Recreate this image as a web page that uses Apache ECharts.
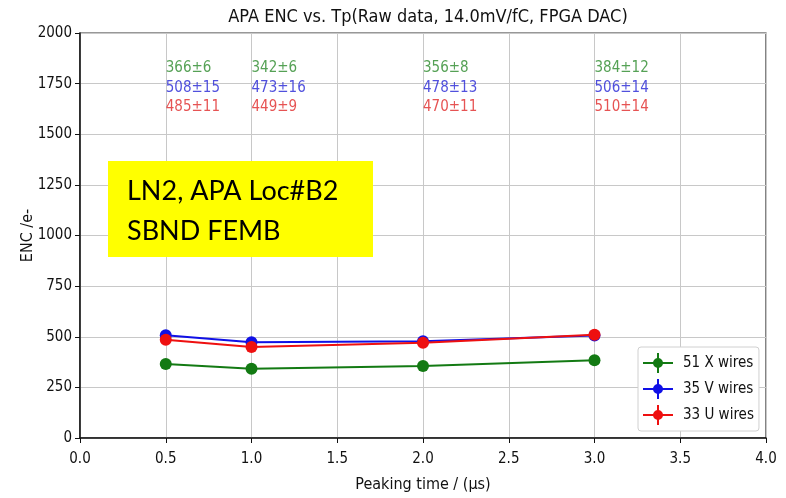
<!DOCTYPE html>
<html>
<head>
<meta charset="utf-8">
<script src="https://cdn.jsdelivr.net/npm/echarts@6/dist/echarts.min.js"></script>
<style>html,body{margin:0;padding:0;background:#fff}#c{width:786px;height:498px}</style>
</head>
<body>
<div id="c"></div>
<script>
const peakingTimes = [0.5, 1.0, 2.0, 3.0];
const seriesNames = ['51 X wires', '35 V wires', '33 U wires'];
const encX = [366, 342, 356, 384];
const errX = [6, 6, 8, 12];
const encV = [508, 473, 478, 506];
const errV = [15, 16, 13, 14];
const encU = [485, 449, 470, 510];
const errU = [11, 9, 11, 14];
const colors = ['#137a13', '#1010e6', '#ee1010'];
const labelColors = ['#2a8a2a', '#2424d4', '#e02828'];
const labelLevels = [1828, 1730, 1632];
const xTicks = [0, 0.5, 1.0, 1.5, 2.0, 2.5, 3.0, 3.5, 4.0];
const yTicks = [0, 250, 500, 750, 1000, 1250, 1500, 1750, 2000];

const FONT = "'DejaVu Sans Condensed', 'DejaVu Sans', sans-serif";
const chart = echarts.init(document.getElementById('c'));

const encs = [encX, encV, encU];
const errs = [errX, errV, errU];

const legendIcon = 'path://M0,9h30v2h-30z M14,0h2v20h-2z M10,10a5,5 0 1,1 10,0a5,5 0 1,1 -10,0z';

const series = [];
encs.forEach((vals, i) => {
  series.push({
    name: seriesNames[i],
    type: 'line',
    data: peakingTimes.map((t, j) => [t, vals[j]]),
    symbol: 'circle',
    symbolSize: 12,
    lineStyle: { color: colors[i], width: 2 },
    itemStyle: { color: colors[i] },
    z: 3 + i
  });
  series.push({
    type: 'custom',
    data: peakingTimes.map((t, j) => [t, vals[j] - errs[i][j], vals[j] + errs[i][j]]),
    renderItem: function (params, api) {
      const lo = api.coord([api.value(0), api.value(1)]);
      const hi = api.coord([api.value(0), api.value(2)]);
      return { type: 'line', shape: { x1: lo[0], y1: lo[1], x2: hi[0], y2: hi[1] }, style: { stroke: colors[i], lineWidth: 2 } };
    },
    z: 3 + i,
    silent: true
  });
  series.push({
    type: 'scatter',
    data: peakingTimes.map((t) => [t, labelLevels[i]]),
    symbolSize: 0,
    silent: true,
    label: {
      show: true,
      position: 'right',
      distance: 0,
      color: labelColors[i],
      fontFamily: FONT,
      fontSize: 15,
      formatter: (p) => vals[p.dataIndex] + '±' + errs[i][p.dataIndex]
    }
  });
});

chart.setOption({
  animation: false,
  backgroundColor: '#fff',
  title: {
    text: 'APA ENC vs. Tp(Raw data, 14.0mV/fC, FPGA DAC)',
    left: 423, top: 3, textAlign: 'center',
    textStyle: { fontFamily: FONT, fontSize: 18, fontWeight: 'normal', color: '#111' }
  },
  grid: { left: 80, right: 20, top: 33, bottom: 57, show: true, borderColor: '#333', borderWidth: 1.2, backgroundColor: 'transparent' },
  legend: {
    data: seriesNames,
    orient: 'vertical',
    left: 638, top: 347,
    itemWidth: 30, itemHeight: 20, itemGap: 6,
    icon: legendIcon,
    padding: [6, 5, 6, 5],
    backgroundColor: '#fff',
    borderColor: '#d0d0d0', borderWidth: 1, borderRadius: 3,
    textStyle: { fontFamily: FONT, fontSize: 15, color: '#111', padding: [0, 0, 0, 5] }
  },
  xAxis: {
    type: 'value', min: 0, max: 4, interval: 0.5,
    name: 'Peaking time / (μs)', nameLocation: 'middle', nameGap: 39, nameMoveOverlap: false,
    nameTextStyle: { fontFamily: FONT, fontSize: 16, color: '#111' },
    axisLine: { show: true, lineStyle: { color: '#111', width: 1.5 } },
    axisTick: { show: true, length: 5, lineStyle: { color: '#111' } },
    axisLabel: { fontFamily: FONT, fontSize: 15, color: '#111', margin: 14, formatter: (v) => v.toFixed(1) },
    splitLine: { show: true, lineStyle: { color: '#c8c8c8', width: 1 } }
  },
  yAxis: {
    type: 'value', min: 0, max: 2000, interval: 250,
    name: 'ENC /e-', nameLocation: 'middle', nameGap: 44, nameRotate: 90, nameMoveOverlap: false,
    nameTextStyle: { fontFamily: FONT, fontSize: 16, color: '#111' },
    axisLine: { show: true, lineStyle: { color: '#111', width: 1.5 } },
    axisTick: { show: true, length: 5, lineStyle: { color: '#111' } },
    axisLabel: { fontFamily: FONT, fontSize: 15, color: '#111', margin: 8, formatter: (v) => String(v) },
    splitLine: { show: true, lineStyle: { color: '#c8c8c8', width: 1 } }
  },
  graphic: [
    { type: 'rect', left: 108, top: 161, shape: { width: 265, height: 96 }, style: { fill: '#ffff00' }, z: 100 },
    { type: 'text', x: 127, y: 191, style: { text: 'LN2, APA Loc#B2', font: "27px Lato, 'Open Sans', sans-serif", fill: '#000', textVerticalAlign: 'middle' }, z: 101 },
    { type: 'text', x: 127, y: 231, style: { text: 'SBND FEMB', font: "27px Lato, 'Open Sans', sans-serif", fill: '#000', textVerticalAlign: 'middle' }, z: 101 }
  ],
  series: series
});
</script>
</body>
</html>
